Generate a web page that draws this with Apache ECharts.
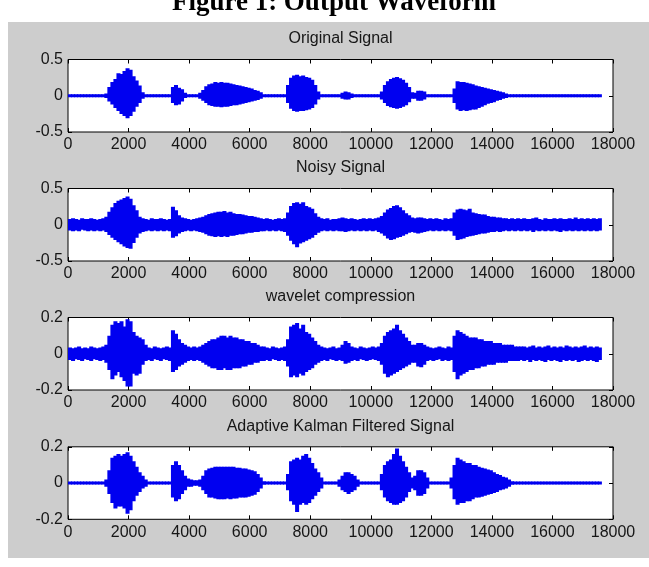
<!DOCTYPE html>
<html><head><meta charset="utf-8">
<script src="https://cdn.jsdelivr.net/npm/echarts@6/dist/echarts.min.js"></script>
<style>html,body{margin:0;padding:0;background:#fff}#c{width:649px;height:567px}</style>
</head><body><div id="c"></div>
<script>
// ---- data (envelope of each waveform, one max/min pair per 100-sample bin) ----
const BIN = 100;
const xMin = 0, xMax = 18000, xStep = 2000;
const titles = ['Original Signal', 'Noisy Signal', 'wavelet compression', 'Adaptive Kalman Filtered Signal'];
const yLimits = [[-0.5, 0.5, 0.5], [-0.5, 0.5, 0.5], [-0.2, 0.2, 0.2], [-0.2, 0.2, 0.2]];

const origHi = [
.012,.012,.012,.012,.012,.012,.012,.012,.012,.012,
.012,.012,.03,.12,.19,.23,.31,.30,.34,.38,
.36,.27,.21,.14,.05,.012,.012,.012,.012,.012,
.012,.012,.012,.012,.12,.15,.11,.09,.04,.012,
.012,.012,.012,.04,.08,.13,.16,.17,.19,.18,
.19,.18,.18,.17,.16,.15,.14,.13,.12,.11,
.10,.08,.07,.05,.02,.012,.012,.012,.012,.012,
.012,.012,.15,.25,.28,.29,.27,.28,.26,.25,
.22,.15,.06,.012,.012,.012,.012,.012,.012,.012,
.04,.06,.05,.03,.012,.012,.012,.012,.012,.012,
.012,.012,.012,.06,.15,.20,.23,.25,.26,.24,
.22,.18,.12,.05,.04,.07,.07,.06,.02,.012,
.012,.012,.012,.012,.012,.012,.012,.10,.20,.19,
.19,.18,.17,.16,.14,.13,.12,.11,.10,.09,
.08,.07,.06,.05,.03,.02,.012,.012,.012,.012,
.012,.012,.012,.012,.012,.012,.012,.012,.012,.012,
.012,.012,.012,.012,.012,.012,.012,.012,.012,.012,
.012,.012,.012,.012,.012,.012];
const origLo = [
-.012,-.012,-.012,-.012,-.012,-.012,-.012,-.012,-.012,-.012,
-.012,-.012,-.03,-.08,-.12,-.17,-.21,-.25,-.28,-.31,
-.28,-.22,-.15,-.10,-.04,-.012,-.012,-.012,-.012,-.012,
-.012,-.012,-.012,-.012,-.10,-.13,-.12,-.08,-.03,-.012,
-.012,-.012,-.012,-.04,-.07,-.10,-.13,-.14,-.15,-.15,
-.16,-.15,-.15,-.14,-.13,-.13,-.12,-.11,-.10,-.09,
-.08,-.07,-.06,-.04,-.02,-.012,-.012,-.012,-.012,-.012,
-.012,-.012,-.10,-.18,-.21,-.22,-.21,-.21,-.20,-.19,
-.17,-.12,-.05,-.012,-.012,-.012,-.012,-.012,-.012,-.012,
-.04,-.05,-.05,-.03,-.012,-.012,-.012,-.012,-.012,-.012,
-.012,-.012,-.012,-.05,-.10,-.14,-.16,-.17,-.18,-.17,
-.15,-.13,-.09,-.04,-.04,-.07,-.07,-.05,-.02,-.012,
-.012,-.012,-.012,-.012,-.012,-.012,-.012,-.10,-.19,-.21,
-.20,-.21,-.20,-.19,-.19,-.17,-.15,-.13,-.11,-.10,
-.09,-.07,-.06,-.04,-.03,-.02,-.012,-.012,-.012,-.012,
-.012,-.012,-.012,-.012,-.012,-.012,-.012,-.012,-.012,-.012,
-.012,-.012,-.012,-.012,-.012,-.012,-.012,-.012,-.012,-.012,
-.012,-.012,-.012,-.012,-.012,-.012];

const noisyHi = [
.08,.09,.08,.07,.09,.08,.08,.09,.08,.07,
.08,.09,.11,.18,.24,.30,.33,.35,.37,.39,
.36,.27,.20,.11,.09,.08,.07,.09,.08,.08,
.09,.08,.07,.08,.25,.20,.13,.10,.09,.08,
.07,.08,.09,.10,.11,.13,.15,.16,.17,.18,
.18,.19,.17,.18,.16,.15,.15,.14,.13,.12,
.12,.11,.10,.09,.08,.09,.08,.07,.08,.09,
.08,.09,.17,.26,.30,.31,.29,.31,.26,.24,
.22,.16,.11,.09,.08,.09,.07,.08,.08,.09,
.10,.09,.08,.09,.08,.07,.08,.09,.08,.09,
.08,.09,.10,.12,.17,.21,.23,.26,.27,.24,
.20,.16,.13,.10,.09,.10,.10,.09,.08,.09,
.08,.09,.08,.07,.09,.08,.09,.17,.21,.22,
.21,.20,.22,.17,.16,.15,.14,.14,.12,.11,
.11,.10,.10,.09,.09,.08,.09,.08,.09,.08,
.09,.08,.08,.09,.10,.08,.07,.09,.08,.08,
.09,.08,.09,.08,.08,.09,.08,.10,.08,.09,
.08,.09,.08,.09,.08,.09];
const noisyLo = [
-.08,-.09,-.08,-.09,-.07,-.08,-.09,-.08,-.09,-.08,
-.09,-.08,-.10,-.14,-.18,-.21,-.24,-.27,-.30,-.32,
-.33,-.25,-.18,-.12,-.10,-.09,-.08,-.09,-.08,-.09,
-.08,-.09,-.08,-.09,-.18,-.16,-.12,-.10,-.09,-.08,
-.09,-.08,-.09,-.10,-.11,-.13,-.15,-.16,-.17,-.16,
-.17,-.16,-.17,-.15,-.15,-.14,-.13,-.13,-.12,-.11,
-.11,-.10,-.10,-.09,-.09,-.08,-.09,-.08,-.09,-.08,
-.09,-.10,-.15,-.22,-.27,-.31,-.26,-.24,-.22,-.20,
-.18,-.14,-.11,-.09,-.08,-.09,-.08,-.09,-.08,-.09,
-.09,-.10,-.09,-.08,-.09,-.08,-.09,-.08,-.09,-.08,
-.09,-.08,-.10,-.12,-.15,-.19,-.21,-.20,-.18,-.17,
-.15,-.13,-.11,-.10,-.11,-.12,-.11,-.10,-.09,-.08,
-.09,-.08,-.09,-.08,-.09,-.08,-.09,-.15,-.21,-.20,
-.19,-.17,-.16,-.15,-.14,-.13,-.12,-.12,-.11,-.10,
-.10,-.09,-.10,-.09,-.08,-.09,-.08,-.09,-.08,-.09,
-.08,-.09,-.08,-.10,-.08,-.09,-.08,-.09,-.08,-.09,
-.08,-.09,-.10,-.08,-.09,-.08,-.09,-.08,-.09,-.08,
-.09,-.08,-.09,-.08,-.09,-.08];

const waveHi = [
.035,.03,.035,.04,.03,.035,.03,.04,.035,.03,
.035,.04,.05,.10,.16,.18,.17,.18,.15,.19,
.18,.12,.10,.09,.08,.05,.035,.03,.04,.035,
.03,.035,.04,.035,.13,.11,.08,.06,.05,.04,
.035,.04,.035,.04,.05,.06,.07,.08,.08,.09,
.10,.10,.09,.10,.09,.09,.08,.08,.07,.07,
.06,.06,.05,.04,.04,.035,.03,.04,.035,.03,
.035,.04,.08,.15,.16,.17,.14,.16,.12,.11,
.09,.07,.05,.04,.035,.03,.035,.04,.03,.035,
.05,.07,.06,.04,.035,.03,.04,.035,.03,.035,
.04,.035,.04,.06,.10,.12,.13,.14,.16,.13,
.11,.09,.07,.05,.05,.06,.06,.05,.04,.035,
.03,.035,.04,.035,.03,.04,.035,.10,.13,.12,
.11,.10,.09,.09,.09,.08,.08,.07,.07,.07,
.06,.06,.06,.05,.05,.05,.05,.04,.04,.04,
.04,.035,.04,.045,.035,.04,.035,.04,.045,.035,
.04,.035,.04,.035,.045,.04,.035,.04,.035,.04,
.045,.035,.04,.035,.04,.035];
const waveLo = [
-.035,-.04,-.03,-.035,-.04,-.03,-.035,-.04,-.03,-.035,
-.04,-.035,-.05,-.09,-.14,-.12,-.10,-.13,-.15,-.18,
-.18,-.11,-.12,-.11,-.06,-.04,-.035,-.04,-.03,-.035,
-.04,-.03,-.035,-.04,-.10,-.09,-.07,-.06,-.05,-.04,
-.035,-.04,-.035,-.04,-.05,-.06,-.07,-.08,-.08,-.09,
-.09,-.08,-.09,-.09,-.08,-.08,-.08,-.07,-.07,-.06,
-.06,-.05,-.05,-.04,-.04,-.035,-.04,-.03,-.035,-.04,
-.035,-.04,-.07,-.13,-.12,-.13,-.11,-.12,-.10,-.09,
-.08,-.06,-.05,-.04,-.035,-.04,-.03,-.035,-.04,-.035,
-.04,-.055,-.05,-.04,-.035,-.04,-.03,-.035,-.04,-.035,
-.03,-.035,-.04,-.06,-.11,-.13,-.12,-.11,-.10,-.09,
-.08,-.07,-.06,-.05,-.05,-.07,-.075,-.06,-.04,-.035,
-.04,-.035,-.03,-.04,-.035,-.04,-.035,-.10,-.14,-.12,
-.11,-.10,-.09,-.09,-.08,-.08,-.07,-.07,-.06,-.06,
-.06,-.05,-.05,-.05,-.05,-.04,-.04,-.04,-.04,-.035,
-.04,-.035,-.045,-.035,-.04,-.035,-.04,-.045,-.035,-.04,
-.035,-.04,-.045,-.035,-.04,-.035,-.04,-.035,-.045,-.04,
-.035,-.04,-.035,-.04,-.045,-.035];

const kalHi = [
.006,.006,.006,.006,.006,.006,.006,.006,.006,.006,
.006,.006,.02,.07,.14,.15,.16,.15,.16,.17,
.15,.12,.09,.06,.04,.02,.006,.006,.006,.006,
.006,.006,.006,.006,.10,.12,.10,.07,.04,.025,
.02,.015,.015,.02,.04,.07,.08,.085,.09,.09,
.09,.09,.09,.09,.09,.085,.085,.08,.08,.075,
.07,.065,.05,.03,.01,.006,.006,.006,.006,.006,
.006,.006,.05,.12,.13,.14,.13,.15,.16,.14,
.11,.08,.06,.03,.006,.006,.006,.006,.006,.02,
.04,.06,.06,.05,.04,.02,.006,.006,.006,.006,
.006,.006,.006,.05,.10,.12,.13,.16,.19,.15,
.12,.09,.06,.03,.04,.07,.07,.06,.03,.006,
.006,.006,.006,.006,.006,.006,.03,.10,.14,.13,
.12,.11,.11,.10,.10,.09,.085,.08,.075,.07,
.06,.05,.045,.035,.03,.02,.01,.006,.006,.006,
.006,.006,.006,.006,.006,.006,.006,.006,.006,.006,
.006,.006,.006,.006,.006,.006,.006,.006,.006,.006,
.006,.006,.006,.006,.006,.006];
const kalLo = [
-.006,-.006,-.006,-.006,-.006,-.006,-.006,-.006,-.006,-.006,
-.006,-.006,-.02,-.06,-.11,-.14,-.13,-.13,-.14,-.17,
-.15,-.10,-.07,-.05,-.03,-.02,-.006,-.006,-.006,-.006,
-.006,-.006,-.006,-.006,-.08,-.10,-.09,-.06,-.04,-.02,
-.02,-.015,-.015,-.02,-.04,-.06,-.08,-.08,-.085,-.09,
-.09,-.09,-.085,-.09,-.085,-.085,-.08,-.08,-.08,-.075,
-.07,-.065,-.05,-.03,-.01,-.006,-.006,-.006,-.006,-.006,
-.006,-.006,-.04,-.10,-.12,-.16,-.12,-.11,-.12,-.11,
-.09,-.07,-.05,-.03,-.006,-.006,-.006,-.006,-.006,-.02,
-.04,-.05,-.06,-.05,-.04,-.02,-.006,-.006,-.006,-.006,
-.006,-.006,-.006,-.04,-.08,-.10,-.11,-.12,-.12,-.11,
-.10,-.08,-.05,-.03,-.04,-.07,-.07,-.06,-.03,-.006,
-.006,-.006,-.006,-.006,-.006,-.006,-.03,-.09,-.12,-.11,
-.11,-.10,-.10,-.09,-.08,-.08,-.075,-.07,-.065,-.06,
-.055,-.05,-.04,-.035,-.03,-.02,-.01,-.006,-.006,-.006,
-.006,-.006,-.006,-.006,-.006,-.006,-.006,-.006,-.006,-.006,
-.006,-.006,-.006,-.006,-.006,-.006,-.006,-.006,-.006,-.006,
-.006,-.006,-.006,-.006,-.006,-.006];

const envelopes = [[origHi, origLo], [noisyHi, noisyLo], [waveHi, waveLo], [kalHi, kalLo]];

// ---- layout / style ----
const FONT = '"Liberation Sans", Arial, Helvetica, sans-serif';
const plotLeft = 68, plotWidth = 545, plotHeight = 72.5;
const plotTops = [59.5, 188.5, 317.5, 446.8];
const WAVE = '#0000f0';
const MIN_THICK = 3;

const chart = echarts.init(document.getElementById('c'), null, {renderer: 'canvas'});

const grids = [], xAxes = [], yAxes = [], series = [];
const graphics = [
  {type: 'rect', z: -100, shape: {x: 8, y: 22, width: 641, height: 536}, style: {fill: '#cdcdcd'}, silent: true},
  {type: 'text', x: 334, y: 3, z: 10, style: {text: 'Figure 1: Output Waveform', font: 'bold 27px "Liberation Serif", "Times New Roman", serif', fill: '#000', align: 'center', verticalAlign: 'middle'}}
];

function plain(v) { return String(v); }

envelopes.forEach(function (env, i) {
  const lim = yLimits[i];
  grids.push({left: plotLeft, width: plotWidth, top: plotTops[i], height: plotHeight,
    show: true, backgroundColor: '#ffffff', borderColor: '#000', borderWidth: 1});
  const tick = {show: true, inside: true, length: 4, lineStyle: {color: '#000', width: 1}};
  const lab = {show: true, fontSize: 16, color: '#161616', fontFamily: FONT, formatter: plain};
  const line = {show: false, onZero: false};
  xAxes.push({gridIndex: i, type: 'value', position: 'bottom', min: xMin, max: xMax, interval: xStep,
    axisLine: line, axisTick: tick, splitLine: {show: false},
    axisLabel: Object.assign({margin: 5}, lab)});
  xAxes.push({gridIndex: i, type: 'value', position: 'top', min: xMin, max: xMax, interval: xStep,
    axisLine: line, axisTick: tick, splitLine: {show: false}, axisLabel: {show: false}});
  yAxes.push({gridIndex: i, type: 'value', position: 'left', min: lim[0], max: lim[1], interval: lim[2],
    axisLine: line, axisTick: tick, splitLine: {show: false},
    axisLabel: Object.assign({margin: 5}, lab)});
  yAxes.push({gridIndex: i, type: 'value', position: 'right', min: lim[0], max: lim[1], interval: lim[2],
    axisLine: line, axisTick: tick, splitLine: {show: false}, axisLabel: {show: false}});
  const data = env[0].map(function (h, k) { return [k * BIN, h, env[1][k]]; });
  series.push({
    type: 'custom', xAxisIndex: 2 * i, yAxisIndex: 2 * i, data: data, clip: true, silent: true,
    encode: {x: 0, y: [1, 2]},
    renderItem: function (params, api) {
      const x0 = api.value(0);
      const p1 = api.coord([x0, api.value(1)]);
      const p2 = api.coord([x0 + BIN, api.value(2)]);
      let y = p1[1], h = p2[1] - p1[1];
      if (h < MIN_THICK) { y = (p1[1] + p2[1]) / 2 - MIN_THICK / 2; h = MIN_THICK; }
      return {type: 'rect', shape: {x: p1[0], y: y, width: p2[0] - p1[0] + 1, height: h},
        style: {fill: WAVE}};
    }
  });
  graphics.push({type: 'text', x: plotLeft + plotWidth / 2, y: plotTops[i] - 20.5,
    style: {text: titles[i], font: '16px ' + FONT, fill: '#161616', align: 'center', verticalAlign: 'middle'}});
});

chart.setOption({
  backgroundColor: '#ffffff',
  animation: false,
  grid: grids, xAxis: xAxes, yAxis: yAxes, series: series,
  graphic: {elements: graphics}
});
</script></body></html>
